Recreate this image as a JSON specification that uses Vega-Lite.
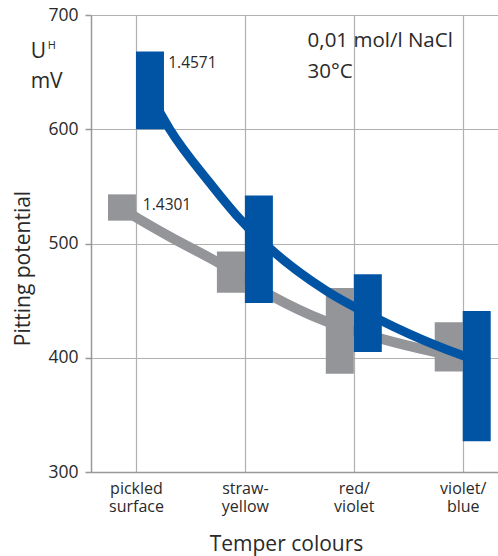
{
  "$schema": "https://vega.github.io/schema/vega-lite/v6.json",
  "width": 407,
  "height": 457,
  "autosize": {"type": "none"},
  "padding": {"left": 91, "top": 15, "right": 0, "bottom": 84},
  "background": "white",
  "config": {"view": {"stroke": null}, "font": "Open Sans"},
  "datasets": {
    "bars": [
      {"colour": "pickled surface", "idx": 0, "alloy": "1.4301", "low": 520, "high": 543},
      {"colour": "pickled surface", "idx": 0, "alloy": "1.4571", "low": 600, "high": 668},
      {"colour": "straw-yellow", "idx": 1, "alloy": "1.4301", "low": 457, "high": 493},
      {"colour": "straw-yellow", "idx": 1, "alloy": "1.4571", "low": 448, "high": 542},
      {"colour": "red/violet", "idx": 2, "alloy": "1.4301", "low": 386, "high": 461},
      {"colour": "red/violet", "idx": 2, "alloy": "1.4571", "low": 405, "high": 473},
      {"colour": "violet/blue", "idx": 3, "alloy": "1.4301", "low": 388, "high": 431},
      {"colour": "violet/blue", "idx": 3, "alloy": "1.4571", "low": 327, "high": 441}
    ],
    "curves": [
      {"alloy": "1.4301", "idx": -0.12, "value": 530},
      {"alloy": "1.4301", "idx": 0.0, "value": 523},
      {"alloy": "1.4301", "idx": 0.31, "value": 506},
      {"alloy": "1.4301", "idx": 0.76, "value": 483},
      {"alloy": "1.4301", "idx": 1.25, "value": 454},
      {"alloy": "1.4301", "idx": 1.74, "value": 432},
      {"alloy": "1.4301", "idx": 2.24, "value": 417},
      {"alloy": "1.4301", "idx": 2.75, "value": 405},
      {"alloy": "1.4301", "idx": 3.0, "value": 400},
      {"alloy": "1.4571", "idx": 0.13, "value": 630},
      {"alloy": "1.4571", "idx": 0.31, "value": 600},
      {"alloy": "1.4571", "idx": 0.67, "value": 554},
      {"alloy": "1.4571", "idx": 0.92, "value": 525},
      {"alloy": "1.4571", "idx": 1.25, "value": 494},
      {"alloy": "1.4571", "idx": 1.74, "value": 459},
      {"alloy": "1.4571", "idx": 2.24, "value": 433},
      {"alloy": "1.4571", "idx": 2.75, "value": 411},
      {"alloy": "1.4571", "idx": 3.0, "value": 402},
      {"alloy": "1.4571", "idx": 3.1, "value": 399}
    ],
    "notes": [
      {"group": "series", "text": "1.4571", "idx": 0.296, "value": 653.6},
      {"group": "series", "text": "1.4301", "idx": 0.063, "value": 529.3},
      {"group": "conditions", "text": "0,01 mol/l NaCl", "idx": 1.576, "value": 672},
      {"group": "conditions", "text": "30°C", "idx": 1.576, "value": 645},
      {"group": "unit", "text": "U", "idx": -0.967, "value": 662.4},
      {"group": "unit", "text": "mV", "idx": -0.967, "value": 636},
      {"group": "unitsub", "text": "H", "idx": -0.81, "value": 670.5}
    ]
  },
  "layer": [
    {
      "data": {"name": "curves"},
      "transform": [{"filter": "datum.alloy == '1.4301'"}],
      "mark": {"type": "line", "interpolate": "monotone", "color": "#939598", "strokeWidth": 10, "strokeCap": "butt", "clip": false},
      "encoding": {
        "x": {
          "field": "idx", "type": "quantitative",
          "scale": {"domain": [-0.367, 3.278], "nice": false, "zero": false},
          "axis": {
            "values": [0, 1, 2, 3],
            "grid": true, "gridColor": "#b0b0b0", "gridWidth": 1.2,
            "domain": true, "domainColor": "#999999", "domainWidth": 1.5,
            "ticks": false, "tickSize": 0,
            "labelExpr": "datum.value == 0 ? ['pickled','surface'] : datum.value == 1 ? ['straw-','yellow'] : datum.value == 2 ? ['red/','violet'] : ['violet/','blue']",
            "labelFontSize": 16, "labelColor": "#2a2a2a", "labelPadding": 8, "labelLineHeight": 18,
            "labelFlush": false, "labelOverlap": false,
            "title": "Temper colours", "titleFontSize": 21, "titleFontWeight": "normal", "titleColor": "#2a2a2a",
            "titleX": 195, "titleY": 78, "titleBaseline": "alphabetic", "titleAnchor": "middle"
          }
        },
        "y": {
          "field": "value", "type": "quantitative",
          "scale": {"domain": [300, 700], "nice": false, "zero": false},
          "axis": {
            "values": [300, 400, 500, 600, 700],
            "grid": true, "gridColor": "#b0b0b0", "gridWidth": 1.2,
            "domain": true, "domainColor": "#999999", "domainWidth": 1.5,
            "ticks": true, "tickSize": 6, "tickColor": "#999999", "tickWidth": 1.5,
            "labelFontSize": 17.5, "labelColor": "#2a2a2a", "labelPadding": 7,
            "title": "Pitting potential", "titleFontSize": 21, "titleFontWeight": "normal", "titleColor": "#2a2a2a",
            "titleAngle": -90, "titleX": -62, "titleY": 253, "titleBaseline": "alphabetic", "titleAlign": "center"
          }
        }
      }
    },
    {
      "data": {"name": "bars"},
      "transform": [{"filter": "datum.alloy == '1.4301'"}],
      "mark": {"type": "bar", "width": 28, "xOffset": -14, "color": "#939598"},
      "encoding": {
        "x": {"field": "idx", "type": "quantitative"},
        "y": {"field": "low", "type": "quantitative"},
        "y2": {"field": "high"}
      }
    },
    {
      "data": {"name": "curves"},
      "transform": [{"filter": "datum.alloy == '1.4571'"}],
      "mark": {"type": "line", "interpolate": "monotone", "color": "#0054a3", "strokeWidth": 9, "strokeCap": "butt"},
      "encoding": {
        "x": {"field": "idx", "type": "quantitative"},
        "y": {"field": "value", "type": "quantitative"}
      }
    },
    {
      "data": {"name": "bars"},
      "transform": [{"filter": "datum.alloy == '1.4571'"}],
      "mark": {"type": "bar", "width": 28, "xOffset": 14, "color": "#0054a3"},
      "encoding": {
        "x": {"field": "idx", "type": "quantitative"},
        "y": {"field": "low", "type": "quantitative"},
        "y2": {"field": "high"}
      }
    },
    {
      "data": {"name": "notes"},
      "transform": [{"filter": "datum.group == 'series'"}],
      "mark": {"type": "text", "align": "left", "baseline": "alphabetic", "fontSize": 15.5, "color": "#2a2a2a"},
      "encoding": {
        "x": {"field": "idx", "type": "quantitative"},
        "y": {"field": "value", "type": "quantitative"},
        "text": {"field": "text"}
      }
    },
    {
      "data": {"name": "notes"},
      "transform": [{"filter": "datum.group == 'conditions'"}],
      "mark": {"type": "text", "align": "left", "baseline": "alphabetic", "fontSize": 20.5, "color": "#2a2a2a"},
      "encoding": {
        "x": {"field": "idx", "type": "quantitative"},
        "y": {"field": "value", "type": "quantitative"},
        "text": {"field": "text"}
      }
    },
    {
      "data": {"name": "notes"},
      "transform": [{"filter": "datum.group == 'unit'"}],
      "mark": {"type": "text", "align": "left", "baseline": "alphabetic", "fontSize": 21, "color": "#2a2a2a"},
      "encoding": {
        "x": {"field": "idx", "type": "quantitative"},
        "y": {"field": "value", "type": "quantitative"},
        "text": {"field": "text"}
      }
    },
    {
      "data": {"name": "notes"},
      "transform": [{"filter": "datum.group == 'unitsub'"}],
      "mark": {"type": "text", "align": "left", "baseline": "alphabetic", "fontSize": 11, "color": "#2a2a2a"},
      "encoding": {
        "x": {"field": "idx", "type": "quantitative"},
        "y": {"field": "value", "type": "quantitative"},
        "text": {"field": "text"}
      }
    }
  ]
}
